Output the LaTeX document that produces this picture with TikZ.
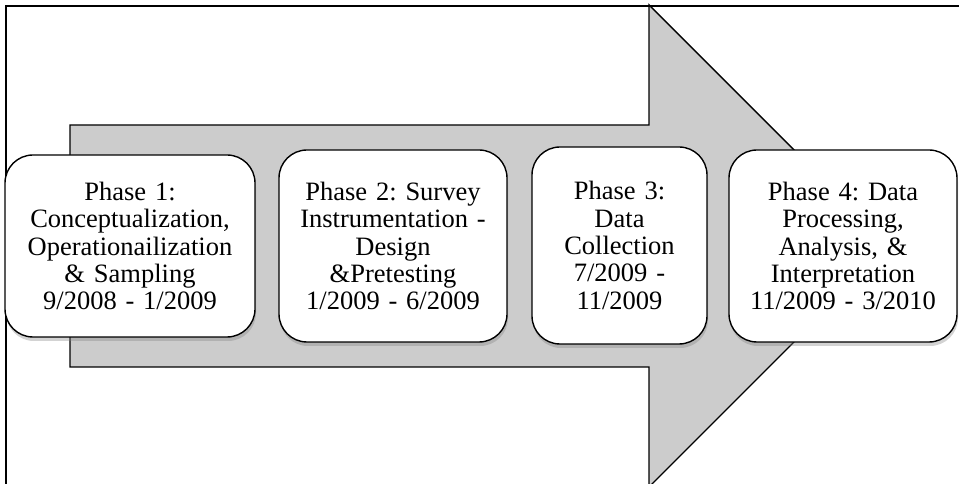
\documentclass[tikz,border=0pt]{standalone}
\usepackage{fontspec}
\setmainfont{Liberation Serif}
\usetikzlibrary{shadows}
\begin{document}
\frenchspacing
\begin{tikzpicture}[x=1pt, y=1pt,
        phase/.style={draw, line width=1.4pt, fill=white, rounded corners=28pt,
            align=center, inner sep=0pt,
            font=\fontsize{26.5}{27.3}\selectfont,
            drop shadow={opacity=0.35, shadow xshift=1pt, shadow yshift=-4pt}}]
                \useasboundingbox (0,0) rectangle (959,484);
                \begin{scope}
                    \clip (0,0) rectangle (959,484);
                    \fill[gray!40] (70,359) -- (649,359) -- (649,479) -- (890,238) -- (649,-3) -- (649,117) -- (70,117) -- cycle;
                    \draw[line width=1.4pt] (70,359) -- (649,359) -- (649,479) -- (890,238) -- (649,-3) -- (649,117) -- (70,117) -- cycle;
                    \draw[line width=2pt] (5.5,-2) -- (5.5,478) -- (961,478);
                \end{scope}
                \node[phase, text width=250pt, minimum height=182pt] (p1) at (130,238)
                    {Phase 1:\\Conceptualization,\\Operationailization\\\& Sampling\\9/2008 - 1/2009};
                \node[phase, text width=228pt, minimum height=192pt] (p2) at (393,238)
                    {Phase 2: Survey\\Instrumentation -\\Design\\\&Pretesting\\1/2009 - 6/2009};
                \node[phase, text width=175pt, minimum height=197pt] (p3) at (619.5,238.5)
                    {Phase 3:\\Data\\Collection\\7/2009 -\\11/2009};
                \node[phase, text width=228pt, minimum height=192pt] (p4) at (843,238)
                    {Phase 4: Data\\Processing,\\Analysis, \&\\Interpretation\\11/2009 - 3/2010};
            \end{tikzpicture}
\end{document}
